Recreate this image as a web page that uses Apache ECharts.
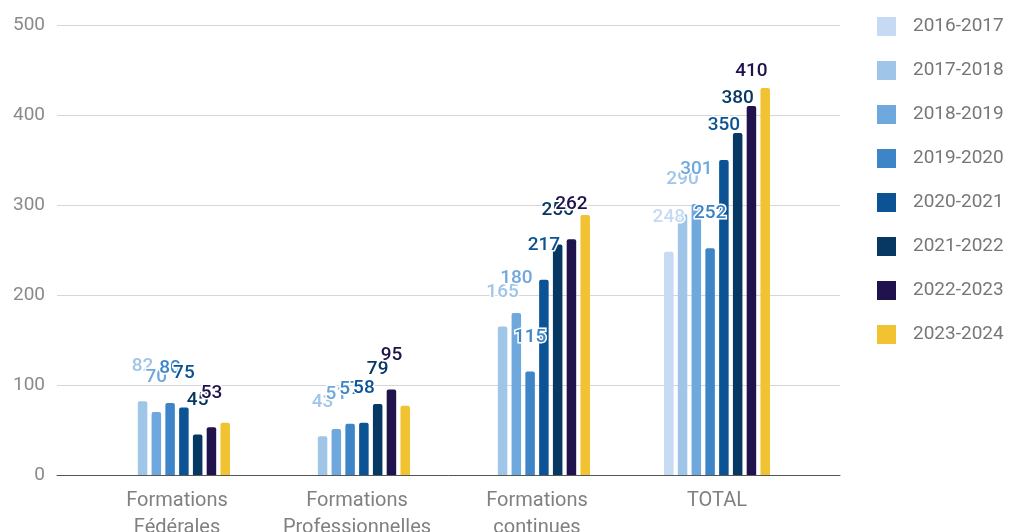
<!DOCTYPE html>
<html>
<head>
<meta charset="utf-8">
<script src="https://cdn.jsdelivr.net/npm/echarts@6/dist/echarts.min.js"></script>
<style>
  html, body { margin: 0; padding: 0; background: #ffffff; }
  #chart { width: 1013px; height: 532px; }
</style>
</head>
<body>
<div id="chart"></div>
<script>
// Categories (x axis)
const categories = ['Formations Fédérales', 'Formations Professionnelles', 'Formations continues', 'TOTAL'];
// Series names (school years)
const seriesNames = ['2016-2017', '2017-2018', '2018-2019', '2019-2020', '2020-2021', '2021-2022', '2022-2023', '2023-2024'];
// Values per series, in category order
const v2016_2017 = [null, null, null, 248];
const v2017_2018 = [82, 43, 165, 290];
const v2018_2019 = [70, 51, 180, 301];
const v2019_2020 = [80, 57, 115, 252];
const v2020_2021 = [75, 58, 217, 350];
const v2021_2022 = [45, 79, 256, 380];
const v2022_2023 = [53, 95, 262, 410];
const v2023_2024 = [58, 77, 289, 430];
// Y axis ticks
const yTicks = [0, 100, 200, 300, 400, 500];

const seriesValues = [v2016_2017, v2017_2018, v2018_2019, v2019_2020, v2020_2021, v2021_2022, v2022_2023, v2023_2024];
const colors = ['#c6daf3', '#9fc5e8', '#6fa8dc', '#3d85c6', '#0b5394', '#073763', '#20124d', '#f1c232'];
const showLabel = [true, true, true, true, true, true, true, false];

const FONT = 'Roboto';
const chart = echarts.init(document.getElementById('chart'), null, { renderer: 'canvas' });

const series = seriesNames.map((name, i) => ({
  name: name,
  type: 'bar',
  xAxisIndex: 1,
  yAxisIndex: 1,
  data: seriesValues[i],
  barWidth: 9.5,
  barGap: '45%',
  itemStyle: { color: colors[i], borderRadius: [2, 2, 0, 0] },
  label: {
    show: showLabel[i],
    position: 'top',
    distance: 25,
    color: colors[i],
    fontFamily: FONT,
    fontSize: 19,
    fontWeight: 500,
    textBorderColor: '#ffffff',
    textBorderWidth: 3
  }
}));

chart.setOption({
  animation: false,
  backgroundColor: '#ffffff',
  textStyle: { fontFamily: FONT },
  grid: [
    { left: 57, right: 173, top: 25, bottom: 57, outerBoundsMode: 'none', containLabel: false },
    { left: 87, right: 206, top: 25, bottom: 57, outerBoundsMode: 'none', containLabel: false }
  ],
  legend: {
    orient: 'vertical',
    left: 872,
    top: 12,
    icon: 'rect',
    itemWidth: 19,
    itemHeight: 19,
    itemGap: 25,
    data: seriesNames,
    textStyle: { color: '#777777', fontSize: 19, fontFamily: FONT, padding: [0, 0, 0, 12] }
  },
  xAxis: [
    {
      type: 'category',
      gridIndex: 0,
      data: categories,
      axisLabel: { show: false },
      axisTick: { show: false },
      axisLine: { show: true, lineStyle: { color: '#555555', width: 1 } }
    },
    {
      type: 'category',
      gridIndex: 1,
      data: categories,
      axisTick: { show: false },
      axisLine: { show: false },
      axisLabel: {
        color: '#808080',
        fontSize: 20,
        fontFamily: FONT,
        lineHeight: 27,
        margin: 12,
        interval: 0,
        formatter: (v) => v.replace(' ', '\n')
      }
    }
  ],
  yAxis: [
    {
      type: 'value',
      gridIndex: 0,
      min: yTicks[0],
      max: yTicks[yTicks.length - 1],
      interval: yTicks[1] - yTicks[0],
      axisLine: { show: false },
      axisTick: { show: false },
      axisLabel: { color: '#8a8a8a', fontSize: 19, fontFamily: FONT, margin: 12 },
      splitLine: { lineStyle: { color: '#d6d6d6', width: 1 } }
    },
    {
      type: 'value',
      gridIndex: 1,
      min: yTicks[0],
      max: yTicks[yTicks.length - 1],
      interval: yTicks[1] - yTicks[0],
      axisLine: { show: false },
      axisTick: { show: false },
      axisLabel: { show: false },
      splitLine: { show: false }
    }
  ],
  series: series
});
</script>
</body>
</html>
